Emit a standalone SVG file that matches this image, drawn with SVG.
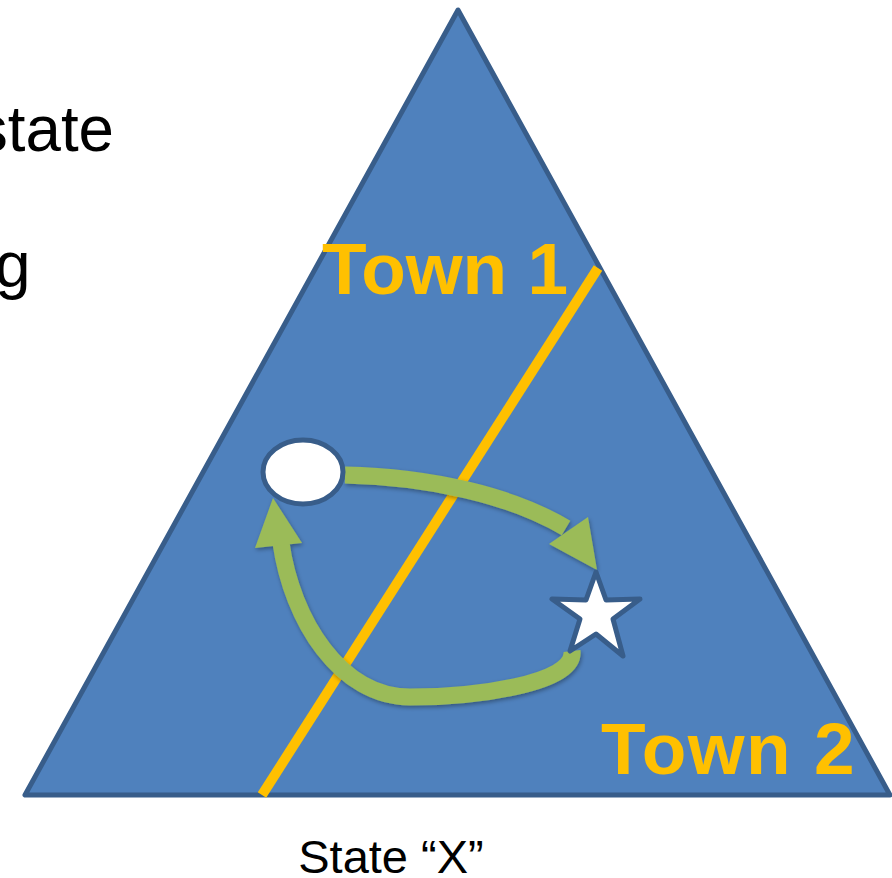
<svg xmlns="http://www.w3.org/2000/svg" width="892" height="878" viewBox="0 0 892 878">
<style>
.txt{font-family:"Liberation Sans",Arial,sans-serif;fill:#000}
.town{font-family:"Liberation Sans",Arial,sans-serif;font-weight:bold;fill:#ffc000}
.shape{stroke:#385d8a;stroke-width:5;stroke-linejoin:round}
.arrow{fill:none;stroke:#9bbb59;stroke-width:17}
.head{fill:#9bbb59}
</style>
<defs>
<filter id="sh" x="-20%" y="-20%" width="140%" height="140%">
<feDropShadow dx="1" dy="2" stdDeviation="2" flood-color="#000" flood-opacity="0.35"/>
</filter>
</defs>
<text class="txt" x="-24" y="151" font-size="64" textLength="138" lengthAdjust="spacingAndGlyphs">state</text>
<text class="txt" x="-5" y="287" font-size="64">g</text>
<g id="region">
<polygon class="shape" points="458,10 25,795 890,795" fill="#4f81bd"/>
</g>
<g id="boundary">
<line x1="262" y1="795" x2="598" y2="268" stroke="#ffc000" stroke-width="10"/>
</g>
<g id="town1"><text class="town" x="322" y="294" font-size="73">Town 1</text></g>
<g id="town2"><text class="town" x="601" y="774" font-size="73" letter-spacing="1.5">Town 2</text></g>
<g id="connectors" filter="url(#sh)">
<path class="arrow" d="M345,475 C430,477 510,495 566,528"/>
<polygon class="head" points="588,517 549,544 597,570"/>
<path class="arrow" d="M572,651 C576,685 470,697 410,697 C340,697 292,620 281,543"/>
<polygon class="head" points="255,548 302,543 273,498"/>
</g>
<g id="start">
<ellipse class="shape" cx="303" cy="472" rx="40" ry="32" fill="#fff"/>
</g>
<g id="target">
<polygon class="shape" fill="#fff" points="596,572 606,600 640,599 613,619 623,656 596,634 570,651 580,619 552,599 586,600"/>
</g>
<text class="txt" x="391" y="873" font-size="47" text-anchor="middle">State “X”</text>
</svg>
